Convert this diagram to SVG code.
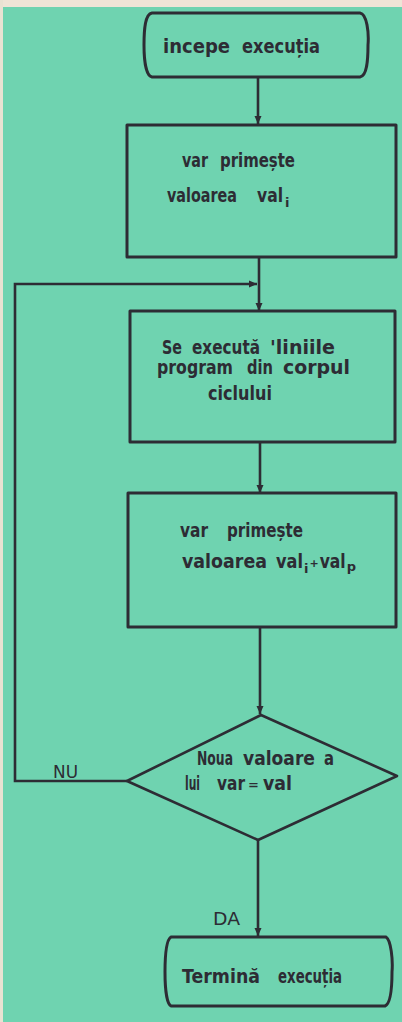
<svg xmlns="http://www.w3.org/2000/svg" width="402" height="1022" viewBox="0 0 402 1022">
<style>
.box{fill:none;stroke:#2d2c34;stroke-width:3;stroke-linejoin:round}
.dia{fill:none;stroke:#2d2c34;stroke-width:2.6;stroke-linejoin:round}
.con{fill:none;stroke:#2d2c34;stroke-width:2.6}
.t{font-family:"DejaVu Sans","Liberation Sans",sans-serif;font-weight:bold;font-size:19px;fill:#2d2c34}
.sub{font-size:13px}
.op{font-size:11px}
.lbl{font-family:"DejaVu Sans","Liberation Sans",sans-serif;font-size:18px;fill:#2d2c34}
</style>
<defs>
<marker id="ah" markerUnits="userSpaceOnUse" markerWidth="8" markerHeight="14" viewBox="0 0 8 14" refX="8" refY="7" orient="auto">
<path d="M0,3.5 L8,7 L0,10.5 Z" fill="#2d2c34"/>
</marker>
</defs>
<rect x="0" y="0" width="402" height="1022" fill="#6fd3b0"/>
<rect x="0" y="0" width="402" height="7" fill="#efe4d6"/>
<rect x="0" y="0" width="3" height="1022" fill="#e9e2d2"/>

<g id="connectors">
<path class="con" d="M258,77 V124" marker-end="url(#ah)"/>
<path class="con" d="M259,257 V311" marker-end="url(#ah)"/>
<path class="con" d="M127,781 H15 V284 H257" marker-end="url(#ah)"/>
<path class="con" d="M260,442 V493" marker-end="url(#ah)"/>
<path class="con" d="M260,627 V714" marker-end="url(#ah)"/>
<path class="con" d="M258,840 V936" marker-end="url(#ah)"/>
</g>

<g id="start">
<path class="box" d="M152,13 L360,13 C367,14 369,33 368,45 C368,60 367,76 360,77 L152,77 C146,76 144,60 144,45 C144,30 145,14 152,13 Z"/>
<text class="t"><tspan x="163" y="53" textLength="67" lengthAdjust="spacingAndGlyphs">incepe</tspan><tspan x="242" y="53" textLength="78" lengthAdjust="spacingAndGlyphs">execuția</tspan></text>
</g>

<g id="init">
<rect class="box" x="127" y="125" width="269" height="132"/>
<text class="t"><tspan x="182" y="167" textLength="26" lengthAdjust="spacingAndGlyphs">var</tspan><tspan x="220" y="167" textLength="75" lengthAdjust="spacingAndGlyphs">primește</tspan></text>
<text class="t"><tspan x="167" y="202" textLength="70" lengthAdjust="spacingAndGlyphs">valoarea</tspan><tspan x="257" y="202" textLength="26" lengthAdjust="spacingAndGlyphs">val</tspan><tspan class="sub" dx="2" dy="5">i</tspan></text>
</g>

<g id="body">
<rect class="box" x="130" y="311" width="265" height="131"/>
<text class="t"><tspan x="162" y="354" textLength="20" lengthAdjust="spacingAndGlyphs">Se</tspan><tspan x="192" y="354" textLength="68" lengthAdjust="spacingAndGlyphs">execută</tspan><tspan x="270" y="354" textLength="65" lengthAdjust="spacingAndGlyphs">'liniile</tspan></text>
<text class="t"><tspan x="157" y="374" textLength="76" lengthAdjust="spacingAndGlyphs">program</tspan><tspan x="247" y="374" textLength="26" lengthAdjust="spacingAndGlyphs">din</tspan><tspan x="283" y="374" textLength="67" lengthAdjust="spacingAndGlyphs">corpul</tspan></text>
<text class="t" x="208" y="400" textLength="64" lengthAdjust="spacingAndGlyphs">ciclului</text>
</g>

<g id="update">
<rect class="box" x="128" y="493" width="268" height="134"/>
<text class="t"><tspan x="180" y="537" textLength="28" lengthAdjust="spacingAndGlyphs">var</tspan><tspan x="227" y="537" textLength="76" lengthAdjust="spacingAndGlyphs">primește</tspan></text>
<text class="t"><tspan x="182" y="568" textLength="85" lengthAdjust="spacingAndGlyphs">valoarea</tspan><tspan x="276" y="568" textLength="27" lengthAdjust="spacingAndGlyphs">val</tspan><tspan class="sub" dx="1" dy="5">i</tspan><tspan class="op" dx="1" dy="-6">+</tspan><tspan dx="1" dy="1" textLength="26" lengthAdjust="spacingAndGlyphs">val</tspan><tspan class="sub" dx="1" dy="3">p</tspan></text>
</g>

<g id="decision">
<path class="dia" d="M261,715 L397,776 L258,840 L127,781 Z"/>
<text class="t"><tspan x="197" y="765" textLength="36" lengthAdjust="spacingAndGlyphs">Noua</tspan><tspan x="243" y="765" textLength="72" lengthAdjust="spacingAndGlyphs">valoare</tspan><tspan x="324" y="765" textLength="10" lengthAdjust="spacingAndGlyphs">a</tspan></text>
<text class="t"><tspan x="185" y="790" textLength="15" lengthAdjust="spacingAndGlyphs">lui</tspan><tspan x="217" y="790" textLength="28" lengthAdjust="spacingAndGlyphs">var</tspan><tspan class="sub" x="248" y="789">=</tspan><tspan x="263" y="790" textLength="29" lengthAdjust="spacingAndGlyphs">val</tspan></text>
</g>

<g id="labels">
<text class="lbl" x="53" y="778" textLength="25" lengthAdjust="spacingAndGlyphs">NU</text>
<text class="lbl" x="213" y="925" textLength="27" lengthAdjust="spacingAndGlyphs">DA</text>
</g>

<g id="end">
<path class="box" d="M171,937 L386,937 C391,940 393,960 392,972 C392,990 390,1004 385,1006 L171,1006 C167,1004 165,990 165,972 C165,955 166,940 171,937 Z"/>
<text class="t"><tspan x="182" y="983" textLength="78" lengthAdjust="spacingAndGlyphs">Termină</tspan><tspan x="278" y="983" textLength="64" lengthAdjust="spacingAndGlyphs">execuția</tspan></text>
</g>
</svg>
